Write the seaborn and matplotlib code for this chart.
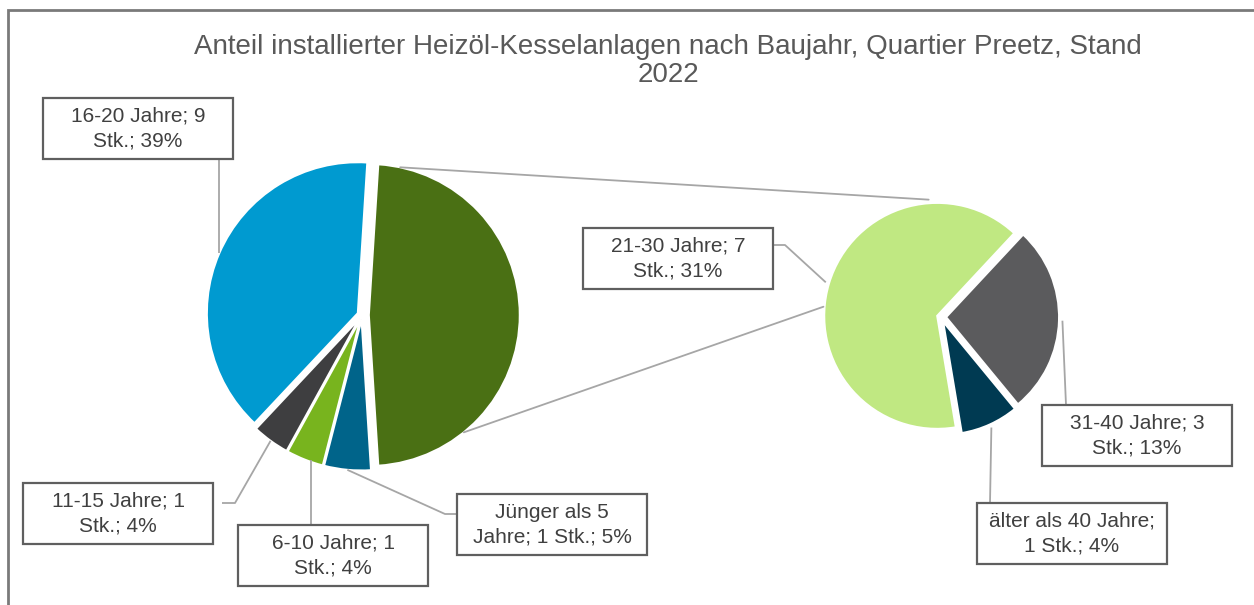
"""Pie-of-pie chart: Heizöl-Kesselanlagen nach Baujahr, Quartier Preetz 2022."""

import numpy as np
import matplotlib.pyplot as plt
import matplotlib.patches as mpatches
import seaborn as sns

# --- data -------------------------------------------------------------
MAIN_LABELS = ["Jünger als 5 Jahre", "6-10 Jahre", "11-15 Jahre", "16-20 Jahre"]
MAIN_COUNTS = [1, 1, 1, 9]
MAIN_PCT = [5, 4, 4, 39]

SUB_LABELS = ["21-30 Jahre", "31-40 Jahre", "älter als 40 Jahre"]
SUB_COUNTS = [7, 3, 1]
SUB_PCT = [31, 13, 4]

MAIN_COLORS = ["#00648A", "#78B41E", "#3E3E40", "#009AD0"]
OTHER_COLOR = "#4A7014"
SUB_COLORS = ["#C0E882", "#5B5B5D", "#003A52"]

TITLE = "Anteil installierter Heizöl-Kesselanlagen nach Baujahr, Quartier Preetz, Stand\n2022"

# label texts as in the original (manual line breaks)
MAIN_TEXTS = [
    "Jünger als 5\nJahre; {c} Stk.; {p}%",
    "6-10 Jahre; {c}\nStk.; {p}%",
    "11-15 Jahre; {c}\nStk.; {p}%",
    "16-20 Jahre; {c}\nStk.; {p}%",
]
SUB_TEXTS = [
    "21-30 Jahre; {c}\nStk.; {p}%",
    "31-40 Jahre; {c}\nStk.; {p}%",
    "älter als 40 Jahre;\n{c} Stk.; {p}%",
]

W, H = 1254, 605
TEXT_COL = "#404040"
LEADER_COL = "#A6A6A6"
BOX_EDGE = "#5F5F5F"


def Y(y_px):
    """Convert a top-down pixel row to the axis (bottom-up) coordinate."""
    return H - y_px


def setup_style():
    sns.set_theme(style="white")
    plt.rcParams["font.family"] = ["Liberation Sans", "DejaVu Sans"]


def wedge_point(wedge, frac=1.0, angle=None):
    """Point on a wedge at its mid angle (or given angle) and radius fraction."""
    if angle is None:
        angle = (wedge.theta1 + wedge.theta2) / 2
    a = np.deg2rad(angle)
    cx, cy = wedge.center
    return cx + wedge.r * frac * np.cos(a), cy + wedge.r * frac * np.sin(a)


def draw_label(ax, text, box_xy, box_w, box_h, anchor, path):
    """Text in a fixed-size box plus leader line anchor -> path points."""
    x0, y0 = box_xy
    ax.add_patch(mpatches.Rectangle((x0, Y(y0 + box_h)), box_w, box_h,
                                    facecolor="white", edgecolor=BOX_EDGE,
                                    linewidth=1.6, zorder=4))
    ax.text(x0 + box_w / 2, Y(y0 + box_h / 2), text, ha="center", va="center",
            fontsize=15, color=TEXT_COL, linespacing=1.35, zorder=5)
    xs = [anchor[0]] + [p[0] for p in path]
    ys = [anchor[1]] + [Y(p[1]) for p in path]
    ax.plot(xs, ys, color=LEADER_COL, linewidth=1.3, zorder=3,
            solid_capstyle="butt")


def main():
    setup_style()
    fig = plt.figure(figsize=(W / 100, H / 100), dpi=100)
    ax = fig.add_axes([0, 0, 1, 1])

    other = sum(SUB_PCT)
    main_vals = MAIN_PCT + [other]
    total = sum(main_vals)

    # primary pie, "other" slice centred on the right
    r_left = 151
    left_w, _ = ax.pie(
        main_vals,
        colors=MAIN_COLORS + [OTHER_COLOR],
        center=(362, Y(315)),
        radius=r_left,
        startangle=-180 * other / total,
        counterclock=False,
        explode=[r_left * e for e in (0.03, 0.03, 0.03, 0.03, 0.045)],
        wedgeprops=dict(edgecolor="white", linewidth=1.5),
        frame=True,
    )

    # secondary pie
    r_right = 113
    cx_r, cy_r = 941, Y(317)
    right_w, _ = ax.pie(
        SUB_PCT,
        colors=SUB_COLORS,
        center=(cx_r, cy_r),
        radius=r_right,
        startangle=-80.5,
        counterclock=False,
        explode=[r_right * e for e in (0.035, 0.045, 0.045)],
        wedgeprops=dict(edgecolor="white", linewidth=1.5),
        frame=True,
    )

    # connector lines between the pies
    olive = left_w[-1]
    ox, oy = olive.center
    for a_left, a_right in [(78, 96), (-51, 175)]:
        al, ar = np.deg2rad(a_left), np.deg2rad(a_right)
        p1 = (ox + olive.r * np.cos(al), oy + olive.r * np.sin(al))
        p2 = (cx_r + 118 * np.cos(ar), cy_r + 118 * np.sin(ar))
        ax.plot([p1[0], p2[0]], [p1[1], p2[1]], color=LEADER_COL,
                linewidth=1.3, zorder=1)

    # data labels
    main_boxes = [
        ((457, 494), [(445, 514), (457, 514)]),
        ((238, 525), [(311, 525)]),
        ((23, 483), [(235, 503), (222, 503)]),
        ((43, 98), [(219, 158)]),
    ]
    for wedge, tmpl, c, p, (bxy, path) in zip(left_w, MAIN_TEXTS, MAIN_COUNTS,
                                               MAIN_PCT, main_boxes):
        anchor = wedge_point(wedge, 1.0)
        if len(path) == 1:
            anchor = (path[0][0], anchor[1])
        draw_label(ax, tmpl.format(c=c, p=p), bxy, 190, 61, anchor, path)

    sub_boxes = [
        ((583, 228), [(785, 245), (771, 245)]),
        ((1042, 405), [(1066, 405)]),
        ((977, 503), [(990, 503)]),
    ]
    for wedge, tmpl, c, p, (bxy, path) in zip(right_w, SUB_TEXTS, SUB_COUNTS,
                                               SUB_PCT, sub_boxes):
        anchor = wedge_point(wedge, 1.03)
        draw_label(ax, tmpl.format(c=c, p=p), bxy, 190, 61, anchor, path)

    ax.text(668, Y(61), TITLE, ha="center", va="center", fontsize=20,
            color="#595959", linespacing=1.12)

    # chart area border (only top and left edge visible)
    ax.add_patch(mpatches.Rectangle((8, -20), 1400, Y(10) + 20, fill=False,
                                    edgecolor="#7A7A7A", linewidth=2, zorder=0))

    ax.set_xlim(0, W)
    ax.set_ylim(0, H)
    ax.set_aspect("equal")
    ax.axis("off")
    fig.savefig("out.png", dpi=100, facecolor="white")
    plt.close(fig)


if __name__ == "__main__":
    main()
